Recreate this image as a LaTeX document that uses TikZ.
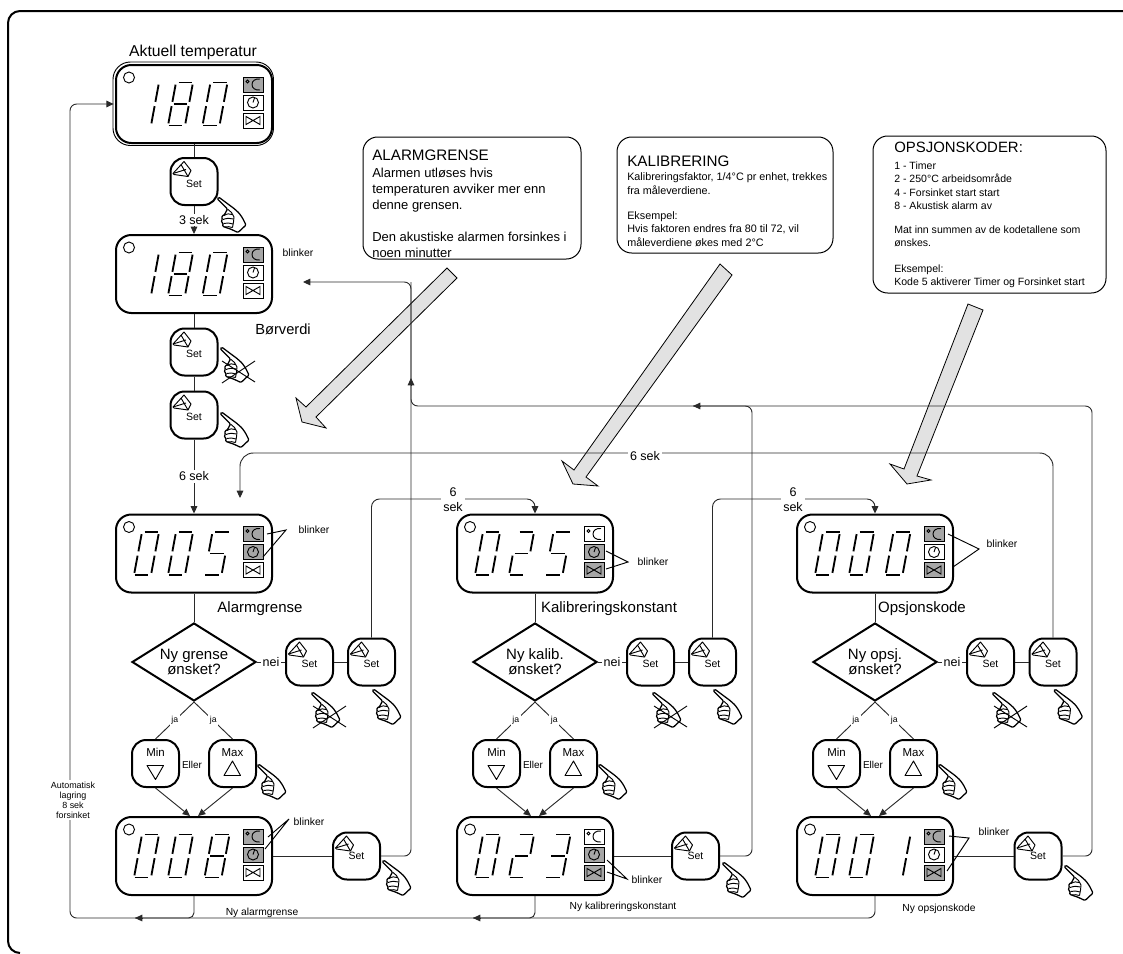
\documentclass[tikz,border=0pt]{standalone}
\usepackage{fontspec}
\setmainfont{Liberation Sans}
\usetikzlibrary{arrows.meta,shapes.geometric,calc}
\newcommand\fs[1]{\fontsize{#1}{#1}\selectfont}
\definecolor{iconG}{HTML}{A6A6A6}
\definecolor{iconW}{HTML}{FFFFFF}
\definecolor{bigfill}{HTML}{E2E2E2}
\definecolor{linec}{HTML}{2A2A2A}
\tikzset{
  disp/.style={draw,line width=1.5pt,rounded corners=11.5pt,minimum width=117pt,minimum height=58.5pt,inner sep=0pt,fill=white},
  btn/.style={draw,line width=1.5pt,rounded corners=10.5pt,minimum width=35.25pt,minimum height=35.25pt,inner sep=0pt,fill=white,font=\fs{7.9}},
  ask/.style={draw,diamond,line width=1.5pt,aspect=1.59,minimum width=93pt,minimum height=58.5pt,inner sep=0pt,align=center,font=\fs{11.25},fill=white},
  flow/.style={line width=.7pt,draw=linec},
  arrowed/.style={line width=.7pt,draw=linec,-{Triangle[length=5.5pt,width=5pt]}},
  callout/.style={draw,line width=.75pt,rounded corners=11pt,inner sep=0pt},
  tline/.style={anchor=base west,inner sep=0pt},
  lab/.style={inner sep=1pt},
  whitelab/.style={inner sep=1.2pt,fill=white},
  bigarrow/.style={draw,line width=.6pt,fill=bigfill},
  seg/.style={line width=1.4pt},
  thinl/.style={line width=.7pt},
  handl/.style={line width=.7pt,line join=round,fill=white},
}
% seven segments
\def\svsa{\draw[seg] (.15,1)--(.97,1);}
\def\svsb{\draw[seg] (1,.95)--(1,.55);}
\def\svsc{\draw[seg] (1,.45)--(1,.05);}
\def\svsd{\draw[seg] (.03,0)--(.85,0);}
\def\svse{\draw[seg] (0,.05)--(0,.45);}
\def\svsf{\draw[seg] (0,.55)--(0,.95);}
\def\svsg{\draw[seg] (.1,.5)--(.9,.5);}
\expandafter\def\csname dgt0\endcsname{a,b,c,d,e,f}
\expandafter\def\csname dgt1\endcsname{b,c}
\expandafter\def\csname dgt2\endcsname{a,b,g,e,d}
\expandafter\def\csname dgt3\endcsname{a,b,g,c,d}
\expandafter\def\csname dgt5\endcsname{a,f,g,c,d}
\expandafter\def\csname dgt8\endcsname{a,b,c,d,e,f,g}
\newcommand\SevSeg[2]{%
  \begin{scope}[shift={(#1,21.5)},x={(12.75pt,0pt)},y={(6pt,32.25pt)}]
    \expandafter\let\expandafter\curdig\csname dgt#2\endcsname
    \foreach \s in \curdig {\csname svs\s\endcsname}
  \end{scope}}
\newcommand\ThreeDigits[4]{\SevSeg{-60}{#2}\SevSeg{-26}{#3}\SevSeg{#1}{#4}}
\newcommand\IconRow[3]{%
  \draw[thinl,fill=icon#1] (49,-27) rectangle (69,-12);
  \draw[thinl,fill=icon#2] (49,-9) rectangle (69,6);
  \draw[thinl,fill=icon#3] (49,9) rectangle (69,24);
  \draw[thinl] (53.5,-22.5) circle (1.5);
  \draw[thinl] (66,-25) .. controls (61,-25.5) and (58,-23) .. (58,-19.5) .. controls (58,-16) and (61,-13.5) .. (66,-14);
  \draw[thinl] (59,-1.5) circle (5.5);
  \draw[thinl] (59,-1.5) -- (60.5,-6);
  \draw[thinl] (52,12.5) -- (52,20.5) -- (66,12.5) -- (66,20.5) -- cycle;
}
\newcommand\Display[6]{%
  \node[disp] (#1) at (#2,#3) {};
  \begin{scope}[shift={(#2,#3)}]
    \draw[thinl] (-65,-26.5) circle (5.5);
    \ThreeDigits{#4}#5
    \IconRow#6
  \end{scope}}
\newcommand\Speaker[2]{%
  \begin{scope}[shift={(#1,#2)}]
    \draw[thinl,line join=round] (-21,-8) -- (-10,-20) -- (-3,-11) -- (-6,-5) -- (-20,-7) -- cycle;
    \draw[thinl] (-21,-8) -- (-8,-12) (-13,-17) -- (-6,-5);
  \end{scope}}
\newcommand\SetBtn[3]{%
  \node[btn] (#1) at (#2,#3) {\smash{\raisebox{-4.4pt}{Set}}};
  \Speaker{#2}{#3}}
\newcommand\SetBtnLow[3]{%
  \node[btn] (#1) at (#2,#3) {\smash{\raisebox{-2.8pt}{Set}}};
  \Speaker{#2}{#3}}
\newcommand\MinBtn[3]{%
  \node[btn,font=\fs{8.6}] (#1) at (#2,#3) {\smash{\raisebox{5.6pt}{Min}}};
  \begin{scope}[shift={(#2,#3)}]
    \draw[thinl,line join=round] (-8.5,2) -- (8,2) -- (0,16) -- cycle;
  \end{scope}}
\newcommand\MaxBtn[3]{%
  \node[btn,font=\fs{8.6}] (#1) at (#2,#3) {\smash{\raisebox{5.6pt}{Max}}};
  \begin{scope}[shift={(#2,#3)}]
    \draw[thinl,line join=round] (-8.5,12) -- (8,12) -- (0,-2.5) -- cycle;
  \end{scope}}
\newcommand\Hand[2]{%
  \begin{scope}[shift={(#1,#2)}]
    \draw[handl,line width=.95pt,rounded corners=.8pt] (-.8,.8) -- (.8,-.8) -- (16,10.5) -- (21,15) -- (24.5,20) -- (28,27) -- (20,34.5) -- (12.5,31) -- (6.5,29)
       .. controls (4,28) and (5,26.5) .. (5.5,25.5) .. controls (3,24.5) and (3.5,22) .. (5,21.5) .. controls (3,20) and (4.5,17.5) .. (6,17.5) -- (9.5,11) -- cycle;
    \draw[thinl] (9.5,11) -- (13.5,14.5) -- (16,19) (6,17.5) .. controls (9,15.5) and (12,15.5) .. (14,16.5) (5,21.5) .. controls (9,20) and (12,20) .. (15.5,21) (5.5,25.5) .. controls (9,24.5) and (12,25) .. (15,26) (6.5,29) .. controls (9,28.5) and (12,28.5) .. (14.5,29.5);
    \draw[thinl] (16,19) -- (15.5,24) -- (14.5,29.5);
  \end{scope}}
\newcommand\HandX[2]{%
  \Hand{#1}{#2}
  \begin{scope}[shift={(#1,#2)}]
    \draw[thinl] (1,35) -- (34,13) (1,13) -- (34,34);
  \end{scope}}
\newcommand\TextLine[5]{\node[tline,font=\fs{#4}] (#1) at (#2,#3) {#5};}
\newcommand\Blink[4]{%
  \coordinate (#1a) at (#2);
  \coordinate (#1v) at (#3);
  \coordinate (#1b) at (#4);
  \draw[thinl] (#1a) -- (#1v) -- (#1b);}
\begin{document}
\begin{tikzpicture}[x=0.75pt,y=-0.75pt]
\useasboundingbox (0,0) rectangle (1123,953);
% outer frame
\draw[line width=1.5pt,rounded corners=9pt] (1123,11) -- (8,11) -- (8,953) -- (20,953);
% big arrows
\draw[bigarrow] (447,268) -- (457,278) -- (316,417) -- (326,428) -- (302,422) -- (296,398) -- (306,407) -- cycle;
\draw[bigarrow] (720,264) -- (732,275) -- (586,477) -- (598,486) -- (573,484) -- (562,461) -- (574,470) -- cycle;
\draw[bigarrow] (968,304) -- (983,310) -- (917,476) -- (931,480) -- (907,484) -- (890,464) -- (904,469) -- cycle;
% callouts
\node[callout,minimum width=163.5pt,minimum height=91.5pt] (boxA) at (472,198) {};
\node[callout,minimum width=162pt,minimum height=87pt] (boxK) at (725,195) {};
\node[callout,minimum width=174.75pt,minimum height=117.75pt] (boxO) at (989.5,214.5) {};
\TextLine{tA1}{372}{160}{11.4}{ALARMGRENSE}
\TextLine{tA2}{372}{177}{9.75}{Alarmen utløses hvis}
\TextLine{tA3}{372}{193}{9.75}{temperaturen avviker mer enn}
\TextLine{tA4}{372}{209}{9.75}{denne grensen.}
\TextLine{tA5}{372}{241}{9.75}{Den akustiske alarmen forsinkes i}
\TextLine{tA6}{372}{257}{9.75}{noen minutter}
\TextLine{tK1}{627}{166}{11.4}{KALIBRERING}
\TextLine{tK2}{627}{180}{8.1}{Kalibreringsfaktor, 1/4°C pr enhet, trekkes}
\TextLine{tK3}{627}{194}{8.1}{fra måleverdiene.}
\TextLine{tK4}{627}{219}{8.1}{Eksempel:}
\TextLine{tK5}{627}{232}{8.1}{Hvis faktoren endres fra 80 til 72, vil}
\TextLine{tK6}{627}{246}{8.1}{måleverdiene økes med 2°C}
\TextLine{tO1}{894}{152}{11.2}{OPSJONSKODER:}
\TextLine{tO2}{894}{169}{7.9}{1 - Timer}
\TextLine{tO3}{894}{182}{7.9}{2 - 250°C arbeidsområde}
\TextLine{tO4}{894}{196}{7.9}{4 - Forsinket start start}
\TextLine{tO5}{894}{209}{7.9}{8 - Akustisk alarm av}
\TextLine{tO6}{894}{233}{7.9}{Mat inn summen av de kodetallene som}
\TextLine{tO7}{894}{246}{7.9}{ønskes.}
\TextLine{tO8}{894}{272}{7.9}{Eksempel:}
\TextLine{tO9}{894}{285}{7.9}{Kode 5 aktiverer Timer og Forsinket start}
% displays
\Display{dT}{194}{104}{8.5}{180}{GWW}
\draw[thinl,rounded corners=13pt] (113,62) rectangle (273.5,145.5);
\Display{dS}{194}{274}{8.5}{180}{GWW}
\Display{dA}{194}{553.5}{10.5}{005}{GGW}
\Display{dK}{535}{553.5}{10.5}{025}{WGG}
\Display{dO}{875}{553.5}{10.5}{000}{GWG}
\Display{dAn}{194}{856}{10.5}{008}{GGW}
\Display{dKn}{535}{856}{10.5}{023}{WGG}
\Display{dOn}{875}{856}{10.5}{001}{GWG}
% Set buttons, column 0
\SetBtn{sT}{194}{181.5}
\SetBtn{sS1}{194}{352}
\SetBtn{sS2}{194}{415}
% diamonds and buttons of the three columns
\node[ask] (qA) at (194,662) {Ny grense\\ønsket?};
\node[ask] (qK) at (535,662) {Ny kalib.\\ønsket?};
\node[ask] (qO) at (875,662) {Ny opsj.\\ønsket?};
\SetBtn{sA1}{309.5}{662}
\SetBtn{sA2}{371.5}{662}
\SetBtn{sK1}{650.5}{662}
\SetBtn{sK2}{712.5}{662}
\SetBtn{sO1}{990.5}{662}
\SetBtn{sO2}{1053}{662}
\MinBtn{minA}{155.5}{763.5}
\MaxBtn{maxA}{232.5}{763.5}
\MinBtn{minK}{496.5}{763.5}
\MaxBtn{maxK}{573.5}{763.5}
\MinBtn{minO}{836.5}{763.5}
\MaxBtn{maxO}{913.5}{763.5}
\SetBtnLow{sAn}{356.5}{856}
\SetBtnLow{sKn}{695.5}{856}
\SetBtnLow{sOn}{1038}{856}
% hands
\Hand{218}{198}
\HandX{221}{348}
\Hand{221}{413}
\HandX{312}{693}
\Hand{373}{690}
\Hand{258}{765}
\Hand{383}{861}
\HandX{653}{693}
\Hand{714}{690}
\Hand{599}{765}
\Hand{723}{863}
\HandX{993}{693}
\Hand{1054.5}{690}
\Hand{939}{765}
\Hand{1065}{866}
% named way points
\coordinate (busL) at (70,918);
\coordinate (mA) at (135,918);
\coordinate (mK) at (473,918);
\coordinate (topR) at (411,282);
\coordinate (tipR) at (303,282);
\coordinate (joinR) at (411,406);
\coordinate (cK) at (752,406);
\coordinate (cO) at (1092,406);
\coordinate (mR) at (693,406);
\coordinate (mU) at (411,378);
\coordinate (m6A) at (453,499);
\coordinate (m6K) at (793,499);
\coordinate (m6O) at (645,453);
\coordinate (t6) at (240,498);
% column 0 connectors
\draw[flow] (dT.south) -- (sT.north);
\draw[arrowed] (sT.south) -- node[whitelab,font=\fs{9.4}] (l3) {3 sek} (dS.north);
\draw[flow] (dS.south) -- (sS1.north);
\draw[flow] (sS1.south) -- (sS2.north);
\draw[arrowed] (sS2.south) -- node[whitelab,font=\fs{9.4}] (l6) {6 sek} (dA.north);
% columns
\draw[flow] (dA.south) -- (qA.north);
\draw[flow] (dK.south) -- (qK.north);
\draw[flow] (dO.south) -- (qO.north);
\draw[flow] (qA.east) -- node[whitelab,font=\fs{9.4}] (nA) {nei} (sA1.west);
\draw[flow] (qK.east) -- node[whitelab,font=\fs{9.4}] (nK) {nei} (sK1.west);
\draw[flow] (qO.east) -- node[whitelab,font=\fs{9.4}] (nO) {nei} (sO1.west);
\draw[flow] (sA1.east) -- (sA2.west);
\draw[flow] (sK1.east) -- (sK2.west);
\draw[flow] (sO1.east) -- (sO2.west);
\draw[flow] (qA.south) -- node[whitelab,font=\fs{6.5}] (jA1) {ja} (minA.north);
\draw[flow] (qA.south) -- node[whitelab,font=\fs{6.5}] (jA2) {ja} (maxA.north);
\draw[flow] (qK.south) -- node[whitelab,font=\fs{6.5}] (jK1) {ja} (minK.north);
\draw[flow] (qK.south) -- node[whitelab,font=\fs{6.5}] (jK2) {ja} (maxK.north);
\draw[flow] (qO.south) -- node[whitelab,font=\fs{6.5}] (jO1) {ja} (minO.north);
\draw[flow] (qO.south) -- node[whitelab,font=\fs{6.5}] (jO2) {ja} (maxO.north);
\draw[arrowed] (minA.south) -- ([xshift=-3pt]dAn.north);
\draw[arrowed] (maxA.south) -- ([xshift=3pt]dAn.north);
\draw[arrowed] (minK.south) -- ([xshift=-3pt]dKn.north);
\draw[arrowed] (maxK.south) -- ([xshift=3pt]dKn.north);
\draw[arrowed] (minO.south) -- ([xshift=-3pt]dOn.north);
\draw[arrowed] (maxO.south) -- ([xshift=3pt]dOn.north);
\draw[flow] (dAn.east) -- (sAn.west);
\draw[flow] (dKn.east) -- (sKn.west);
\draw[flow] (dOn.east) -- (sOn.west);
% bottom return bus
\draw[arrowed,rounded corners=5pt] (dOn.south) |- (busL) |- ([xshift=-1pt]dT.west);
\draw[flow,rounded corners=4pt] (dKn.south) |- (mK);
\draw[flow,rounded corners=4pt] (dAn.south) |- (mA);
\draw[arrowed] ($(mA)+(7,0)$) -- (mA);
\draw[arrowed] ($(mK)+(7,0)$) -- (mK);
% right return lines
\draw[arrowed,rounded corners=5pt] (sAn.east) -| (topR) -- (tipR);
\draw[flow,rounded corners=5pt] (sOn.east) -| (cO) -- (joinR) -- (topR);
\draw[flow,rounded corners=5pt] (sKn.east) -| (cK) -- (mR);
\draw[arrowed] ($(mR)+(7,0)$) -- (mR);
\draw[arrowed] ($(mU)+(0,7)$) -- (mU);
% 6 sek lines
\draw[arrowed,rounded corners=6pt] (sA2.north) |- (m6A) -| (dK.north);
\draw[arrowed,rounded corners=6pt] (sK2.north) |- (m6K) -| (dO.north);
\draw[arrowed,rounded corners=10pt] (sO2.north) |- (m6O) -| (t6);
\node[fill=white,inner sep=1.5pt,align=center,font=\fs{9.4}] (l6A) at (453,500) {6\\[2pt]sek};
\node[fill=white,inner sep=1.5pt,align=center,font=\fs{9.4}] (l6K) at (793,500) {6\\[2pt]sek};
\node[fill=white,inner sep=1.5pt,font=\fs{9.4}] (l6O) at (645,456) {6 sek};
% Automatic label
\node[fill=white,inner sep=1pt,align=center,font=\fs{6.7}] (lAuto) at (73,800) {Automatisk\\[.8pt]lagring\\[.8pt]8 sek\\[.8pt]forsinket};
% texts
\node[lab,font=\fs{11.8}] (lAkt) at (193,52) {Aktuell temperatur};
\node[lab,font=\fs{11}] (lBor) at (283,329) {Børverdi};
\node[lab,font=\fs{11.25}] (lAl) at (260,609) {Alarmgrense};
\node[lab,font=\fs{11.25}] (lKa) at (609,609) {Kalibreringskonstant};
\node[lab,font=\fs{11.25}] (lOp) at (922,609) {Opsjonskode};
\node[lab,font=\fs{7.5}] (eA) at (192,765) {Eller};
\node[lab,font=\fs{7.5}] (eK) at (533,765) {Eller};
\node[lab,font=\fs{7.5}] (eO) at (873,765) {Eller};
\node[lab,font=\fs{7.7}] (nyA) at (262,913) {Ny alarmgrense};
\node[lab,font=\fs{7.7}] (nyK) at (623,907) {Ny kalibreringskonstant};
\node[lab,font=\fs{7.7}] (nyO) at (939,909) {Ny opsjonskode};
% blinker
\node[lab,font=\fs{7.8}] (bS) at (298,253) {blinker};
\node[lab,font=\fs{7.8}] (bA) at (314,530) {blinker};
\node[lab,font=\fs{7.8}] (bK) at (653,562) {blinker};
\node[lab,font=\fs{7.8}] (bO) at (1002,544) {blinker};
\node[lab,font=\fs{7.8}] (bAn) at (309,822) {blinker};
\node[lab,font=\fs{7.8}] (bKn) at (647,880) {blinker};
\node[lab,font=\fs{7.8}] (bOn) at (994,832) {blinker};
\Blink{vA}{267,534}{286,530}{263,557}
\Blink{vK}{606,551}{628,562}{606,569}
\Blink{vO}{948,534}{979,549}{953,567}
\Blink{vAn}{268,837}{289,819}{265,849}
\Blink{vKn}{607,860}{627,879}{607,872}
\Blink{vOn}{949,836}{969,838}{947,871}
\end{tikzpicture}
\end{document}
